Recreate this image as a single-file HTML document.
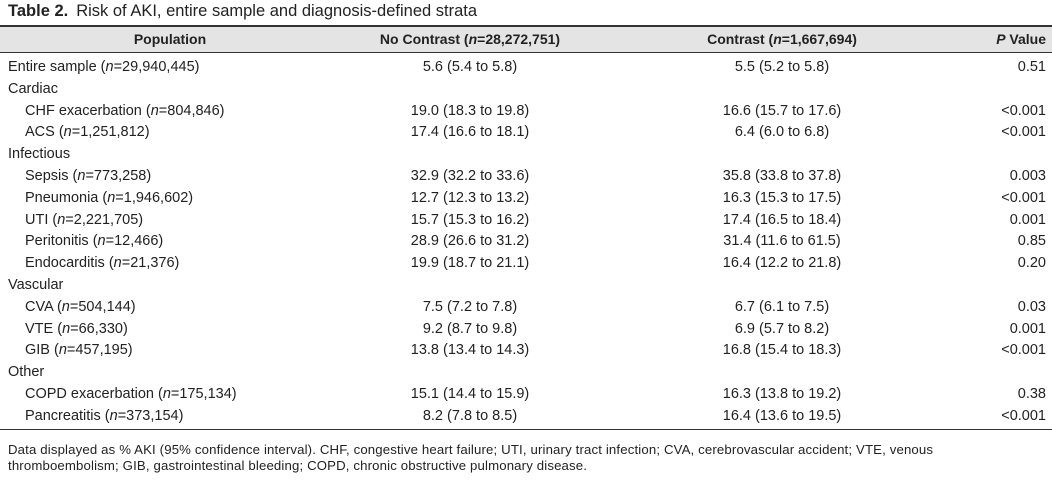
<!DOCTYPE html>
<html><head><meta charset="utf-8"><style>
body{margin:0;width:1052px;height:488px;background:#fff;font-family:"Liberation Sans",sans-serif;color:#222;position:relative;overflow:hidden}
.title{position:absolute;left:8px;top:1px;font-size:16.5px;line-height:20px}
.title b{margin-right:8px}
.hdr{position:absolute;left:0;top:25px;width:1052px;height:25px;background:#e4e4e4;border-top:2px solid #333;border-bottom:1.5px solid #333}
.hdr div,.row div{position:absolute;white-space:nowrap}
.hdr div{top:0;line-height:25px;font-weight:bold;font-size:14px}
.row{position:absolute;left:0;width:1052px;height:21.8px;font-size:14.5px;line-height:21.8px}
.c1{left:8px}.c1.ind{left:25px}
.c2{left:470px;transform:translateX(-50%)}
.c3{left:782px;transform:translateX(-50%)}
.c4{right:6px}
.bot{position:absolute;left:0;top:429px;width:1052px;border-top:1.5px solid #333}
.foot{position:absolute;left:8px;top:442px;font-size:13.2px;letter-spacing:0.15px;line-height:16px;width:1015px}
</style></head><body>
<div class="title"><b>Table 2.</b>Risk of AKI, entire sample and diagnosis-defined strata</div>
<div class="hdr">
<div style="left:170px;transform:translateX(-50%)">Population</div>
<div class="c2">No Contrast (<i>n</i>=28,272,751)</div>
<div class="c3">Contrast (<i>n</i>=1,667,694)</div>
<div class="c4"><i>P</i> Value</div>
</div>
<div id="rows"></div>
<div class="bot"></div>
<div class="foot">Data displayed as % AKI (95% confidence interval). CHF, congestive heart failure; UTI, urinary tract infection; CVA, cerebrovascular accident; VTE, venous thromboembolism; GIB, gastrointestinal bleeding; COPD, chronic obstructive pulmonary disease.</div>
<script>
const labels=["Entire sample|29,940,445","Cardiac","CHF exacerbation|804,846","ACS|1,251,812","Infectious","Sepsis|773,258","Pneumonia|1,946,602","UTI|2,221,705","Peritonitis|12,466","Endocarditis|21,376","Vascular","CVA|504,144","VTE|66,330","GIB|457,195","Other","COPD exacerbation|175,134","Pancreatitis|373,154"];
const noContrast=["5.6 (5.4 to 5.8)","","19.0 (18.3 to 19.8)","17.4 (16.6 to 18.1)","","32.9 (32.2 to 33.6)","12.7 (12.3 to 13.2)","15.7 (15.3 to 16.2)","28.9 (26.6 to 31.2)","19.9 (18.7 to 21.1)","","7.5 (7.2 to 7.8)","9.2 (8.7 to 9.8)","13.8 (13.4 to 14.3)","","15.1 (14.4 to 15.9)","8.2 (7.8 to 8.5)"];
const contrast=["5.5 (5.2 to 5.8)","","16.6 (15.7 to 17.6)","6.4 (6.0 to 6.8)","","35.8 (33.8 to 37.8)","16.3 (15.3 to 17.5)","17.4 (16.5 to 18.4)","31.4 (11.6 to 61.5)","16.4 (12.2 to 21.8)","","6.7 (6.1 to 7.5)","6.9 (5.7 to 8.2)","16.8 (15.4 to 18.3)","","16.3 (13.8 to 19.2)","16.4 (13.6 to 19.5)"];
const pvals=["0.51","","<0.001","<0.001","","0.003","<0.001","0.001","0.85","0.20","","0.03","0.001","<0.001","","0.38","<0.001"];
const wrap=document.getElementById('rows');
labels.forEach((l,i)=>{
 const r=document.createElement('div');r.className='row';r.style.top=(57+i*21.8)+'px';
 
 
 const p=l.split('|');
 const c1=document.createElement('div');
 c1.className='c1'+(p[1]&&i>0?' ind':'');
 
 
 c1.innerHTML=p[1]?p[0]+' (<i>n</i>='+p[1]+')':p[0];
 r.appendChild(c1);
 [['c2',noContrast[i],'no-contrast-cell'],['c3',contrast[i],'contrast-cell'],['c4',pvals[i],'p-value-cell']].forEach(([c,t,n])=>{
  if(!t)return;const d=document.createElement('div');d.className=c;d.textContent=t;
  
  
  r.appendChild(d);});
 wrap.appendChild(r);
});
</script>
</body></html>
